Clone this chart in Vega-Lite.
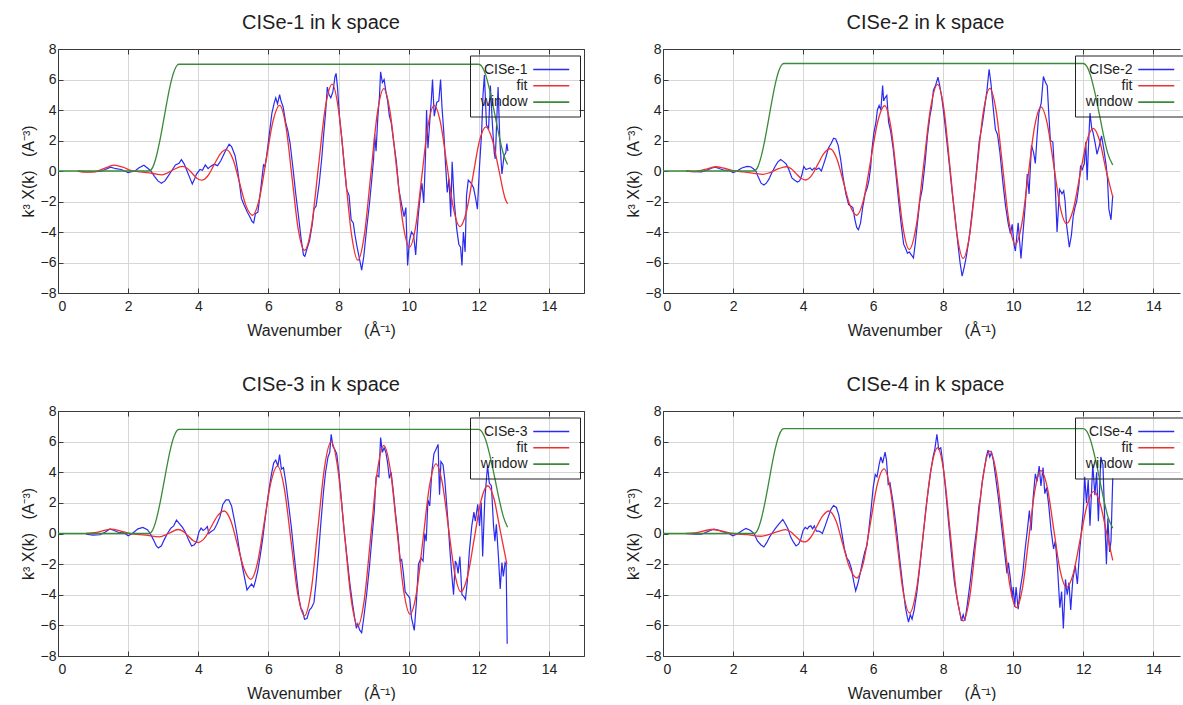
{
"$schema": "https://vega.github.io/schema/vega-lite/v6.json",
"background": "white",
"autosize": {"type": "pad"},
"padding": {"left": 20, "top": 13, "right": 0, "bottom": 0},
"config": {
  "view": {"stroke": null},
  "font": "Liberation Sans",
  "title": {"fontSize": 20, "fontWeight": "normal", "color": "#1e1e1e", "font": "Liberation Sans", "offset": 9},
  "axis": {"domainColor": "#3a3a3a", "tickColor": "#3a3a3a", "tickSize": -5, "gridColor": "#d6d6d6", "labelFont": "Liberation Sans", "labelFontSize": 14, "labelColor": "#222", "titleFont": "Liberation Sans", "titleFontSize": 16, "titleFontWeight": "normal", "titleColor": "#1e1e1e"},
  "axisBottom": {"labelPadding": 11, "titlePadding": 9},
  "axisLeft": {"labelPadding": 7, "titlePadding": 4},
  "legend": {"orient": "none", "legendX": 412, "legendY": 6.5, "title": null, "strokeColor": "#222", "padding": 7, "symbolType": "M-3.6,0H3.6", "symbolSize": 100, "symbolStrokeWidth": 1.6, "rowPadding": 2.3, "labelAlign": "right", "labelBaseline": "middle", "labelOffset": -30.75, "symbolOffset": 67.25, "labelFont": "Liberation Sans", "labelFontSize": 14, "labelColor": "#222", "labelLimit": 200}
},
"bounds": "flush",
"spacing": {"row": 118, "column": 79},
"columns": 2,
"resolve": {"scale": {"color": "independent", "x": "independent", "y": "independent"}},
"datasets": {
"p1": [
{"k":0.6,"d":0},{"k":0.8,"d":-0.05},{"k":1.0,"d":-0.05},{"k":1.2,"d":-0.03},{"k":1.35,"d":0.1},{"k":1.5,"d":0.25},{"k":1.65,"d":0.15},{"k":1.8,"d":0.1},{"k":1.9,"d":0},{"k":2.0,"d":-0.1},{"k":2.1,"d":-0.05},{"k":2.2,"d":0},{"k":2.3,"d":0.2},{"k":2.45,"d":0.38},{"k":2.55,"d":0.2},{"k":2.65,"d":0},{"k":2.75,"d":-0.35},{"k":2.85,"d":-0.65},{"k":2.95,"d":-0.8},{"k":3.05,"d":-0.65},{"k":3.15,"d":-0.3},{"k":3.25,"d":0.05},{"k":3.35,"d":0.4},{"k":3.45,"d":0.5},{"k":3.52,"d":0.75},{"k":3.6,"d":0.45},{"k":3.68,"d":0},{"k":3.75,"d":-0.4},{"k":3.83,"d":-0.85},{"k":3.9,"d":-0.5},{"k":3.95,"d":-0.2},{"k":4.05,"d":0.1},{"k":4.12,"d":0.05},{"k":4.2,"d":0.4},{"k":4.28,"d":0.15},{"k":4.35,"d":0.3},{"k":4.45,"d":0.45},{"k":4.55,"d":0.35},{"k":4.65,"d":0.7},{"k":4.75,"d":1.2},{"k":4.88,"d":1.75},{"k":4.95,"d":1.6},{"k":5.05,"d":1.0},{"k":5.12,"d":0.1},{"k":5.18,"d":-0.9},{"k":5.23,"d":-1.8},{"k":5.3,"d":-2.2},{"k":5.4,"d":-2.7},{"k":5.47,"d":-3.0},{"k":5.53,"d":-3.3},{"k":5.58,"d":-3.4},{"k":5.63,"d":-2.8},{"k":5.7,"d":-2.7},{"k":5.76,"d":-1.6},{"k":5.82,"d":-0.4},{"k":5.86,"d":0.4},{"k":5.9,"d":0.3},{"k":5.95,"d":1.0},{"k":6.02,"d":2.3},{"k":6.1,"d":3.8},{"k":6.17,"d":4.5},{"k":6.21,"d":4.8},{"k":6.26,"d":4.4},{"k":6.32,"d":5.0},{"k":6.36,"d":4.6},{"k":6.42,"d":4.2},{"k":6.5,"d":3.1},{"k":6.55,"d":2.7},{"k":6.62,"d":1.8},{"k":6.7,"d":0.2},{"k":6.78,"d":-1.5},{"k":6.86,"d":-3.0},{"k":6.93,"d":-4.4},{"k":7.0,"d":-5.5},{"k":7.04,"d":-5.6},{"k":7.1,"d":-5.1},{"k":7.17,"d":-4.6},{"k":7.25,"d":-3.5},{"k":7.3,"d":-2.5},{"k":7.36,"d":-2.3},{"k":7.45,"d":-0.8},{"k":7.52,"d":0.8},{"k":7.58,"d":2.5},{"k":7.63,"d":3.8},{"k":7.68,"d":5.5},{"k":7.73,"d":5.0},{"k":7.78,"d":4.8},{"k":7.84,"d":5.2},{"k":7.9,"d":6.2},{"k":7.93,"d":6.4},{"k":7.97,"d":5.5},{"k":8.03,"d":3.5},{"k":8.1,"d":2.0},{"k":8.17,"d":0.2},{"k":8.23,"d":-1.2},{"k":8.3,"d":-1.6},{"k":8.36,"d":-3.2},{"k":8.42,"d":-3.4},{"k":8.47,"d":-4.2},{"k":8.53,"d":-5.0},{"k":8.6,"d":-5.8},{"k":8.66,"d":-6.5},{"k":8.72,"d":-5.6},{"k":8.8,"d":-3.8},{"k":8.88,"d":-2.2},{"k":8.95,"d":-0.5},{"k":9.0,"d":0.8},{"k":9.03,"d":2.4},{"k":9.07,"d":1.3},{"k":9.12,"d":3.5},{"k":9.17,"d":5.0},{"k":9.2,"d":6.5},{"k":9.25,"d":5.8},{"k":9.3,"d":6.0},{"k":9.35,"d":5.2},{"k":9.4,"d":4.6},{"k":9.45,"d":3.6},{"k":9.5,"d":3.2},{"k":9.58,"d":1.8},{"k":9.65,"d":0.6},{"k":9.72,"d":-1.2},{"k":9.8,"d":-2.2},{"k":9.87,"d":-3.0},{"k":9.92,"d":-2.4},{"k":9.97,"d":-6.2},{"k":10.02,"d":-4.6},{"k":10.08,"d":-4.0},{"k":10.14,"d":-4.2},{"k":10.2,"d":-5.5},{"k":10.27,"d":-3.0},{"k":10.33,"d":-1.6},{"k":10.38,"d":-0.8},{"k":10.43,"d":-2.1},{"k":10.48,"d":1.0},{"k":10.51,"d":4.0},{"k":10.55,"d":1.5},{"k":10.6,"d":3.2},{"k":10.65,"d":4.8},{"k":10.68,"d":6.0},{"k":10.73,"d":3.6},{"k":10.8,"d":4.5},{"k":10.86,"d":4.6},{"k":10.91,"d":6.0},{"k":10.95,"d":4.2},{"k":11.0,"d":2.6},{"k":11.05,"d":0.5},{"k":11.1,"d":-1.4},{"k":11.15,"d":-0.5},{"k":11.2,"d":-3.0},{"k":11.24,"d":0.6},{"k":11.3,"d":-2.0},{"k":11.37,"d":-3.8},{"k":11.43,"d":-4.8},{"k":11.48,"d":-5.0},{"k":11.52,"d":-6.2},{"k":11.56,"d":-4.0},{"k":11.61,"d":-5.3},{"k":11.65,"d":-1.6},{"k":11.7,"d":-0.6},{"k":11.78,"d":-0.8},{"k":11.85,"d":-1.1},{"k":11.91,"d":-1.8},{"k":11.96,"d":-2.5},{"k":12.02,"d":0.3},{"k":12.08,"d":2.5},{"k":12.12,"d":5.0},{"k":12.16,"d":6.3},{"k":12.22,"d":3.0},{"k":12.28,"d":2.8},{"k":12.33,"d":5.6},{"k":12.39,"d":3.0},{"k":12.44,"d":1.2},{"k":12.47,"d":0.8},{"k":12.51,"d":3.2},{"k":12.55,"d":5.5},{"k":12.6,"d":2.0},{"k":12.66,"d":-0.2},{"k":12.72,"d":1.0},{"k":12.77,"d":1.2},{"k":12.8,"d":1.8},{"k":12.83,"d":1.3},
{"k":0.55,"f":0},{"k":0.8,"f":-0.08},{"k":1.05,"f":-0.05},{"k":1.3,"f":0.15},{"k":1.6,"f":0.38},{"k":1.85,"f":0.25},{"k":2.1,"f":0.02},{"k":2.35,"f":-0.06},{"k":2.6,"f":-0.12},{"k":2.8,"f":-0.2},{"k":2.95,"f":-0.25},{"k":3.1,"f":-0.15},{"k":3.3,"f":0.1},{"k":3.55,"f":0.3},{"k":3.69,"f":0.17},{"k":3.825,"f":-0.15},{"k":3.96,"f":-0.47},{"k":4.1,"f":-0.6},{"k":4.275,"f":-0.31},{"k":4.45,"f":0.4},{"k":4.625,"f":1.11},{"k":4.8,"f":1.4},{"k":4.99,"f":0.77},{"k":5.175,"f":-0.75},{"k":5.36,"f":-2.27},{"k":5.55,"f":-2.9},{"k":5.74,"f":-1.85},{"k":5.935,"f":0.7},{"k":6.13,"f":3.25},{"k":6.32,"f":4.3},{"k":6.5,"f":2.91},{"k":6.675,"f":-0.45},{"k":6.85,"f":-3.81},{"k":7.03,"f":-5.2},{"k":7.23,"f":-3.61},{"k":7.425,"f":0.25},{"k":7.62,"f":4.11},{"k":7.82,"f":5.7},{"k":8.0,"f":4.01},{"k":8.185,"f":-0.08},{"k":8.37,"f":-4.16},{"k":8.55,"f":-5.85},{"k":8.735,"f":-4.21},{"k":8.92,"f":-0.23},{"k":9.105,"f":3.76},{"k":9.29,"f":5.4},{"k":9.47,"f":3.88},{"k":9.655,"f":0.2},{"k":9.84,"f":-3.48},{"k":10.02,"f":-5.0},{"k":10.2,"f":-3.64},{"k":10.375,"f":-0.35},{"k":10.55,"f":2.94},{"k":10.73,"f":4.3},{"k":10.91,"f":3.14},{"k":11.095,"f":0.33},{"k":11.28,"f":-2.49},{"k":11.46,"f":-3.65},{"k":11.645,"f":-2.69},{"k":11.83,"f":-0.38},{"k":12.015,"f":1.94},{"k":12.2,"f":2.9},{"k":12.38,"f":2.1},{"k":12.565,"f":0.15},{"k":12.75,"f":-1.8},{"k":12.82,"f":-2.15},
{"k":0,"w":0},{"k":2.6,"w":0},{"k":2.7,"w":0.24},{"k":2.8,"w":0.92},{"k":2.9,"w":1.94},{"k":3.0,"w":3.17},{"k":3.1,"w":4.45},{"k":3.2,"w":5.61},{"k":3.3,"w":6.48},{"k":3.4,"w":6.94},{"k":3.45,"w":7.0},{"k":12.0,"w":7.0},{"k":12.1,"w":6.81},{"k":12.2,"w":6.27},{"k":12.3,"w":5.4},{"k":12.4,"w":4.36},{"k":12.5,"w":3.21},{"k":12.6,"w":2.09},{"k":12.7,"w":1.13},{"k":12.82,"w":0.42}
],
"p2": [
{"k":0.66,"d":0},{"k":0.9,"d":-0.05},{"k":1.1,"d":-0.06},{"k":1.25,"d":0.05},{"k":1.4,"d":0.2},{"k":1.5,"d":0.25},{"k":1.62,"d":0.15},{"k":1.75,"d":0.05},{"k":1.88,"d":0.05},{"k":2.0,"d":-0.1},{"k":2.1,"d":-0.02},{"k":2.25,"d":0.2},{"k":2.4,"d":0.3},{"k":2.5,"d":0.28},{"k":2.58,"d":0.15},{"k":2.65,"d":0},{"k":2.72,"d":-0.4},{"k":2.8,"d":-0.8},{"k":2.88,"d":-0.92},{"k":2.95,"d":-0.8},{"k":3.02,"d":-0.55},{"k":3.1,"d":-0.15},{"k":3.2,"d":0.3},{"k":3.28,"d":0.6},{"k":3.36,"d":0.75},{"k":3.45,"d":0.6},{"k":3.52,"d":0.45},{"k":3.6,"d":0.05},{"k":3.68,"d":-0.45},{"k":3.76,"d":-0.6},{"k":3.84,"d":-0.72},{"k":3.9,"d":-0.65},{"k":3.96,"d":-0.3},{"k":4.02,"d":0.3},{"k":4.08,"d":0.1},{"k":4.14,"d":0.15},{"k":4.2,"d":0.2},{"k":4.26,"d":0.05},{"k":4.32,"d":0.2},{"k":4.38,"d":0.1},{"k":4.45,"d":0.2},{"k":4.52,"d":0},{"k":4.58,"d":0.4},{"k":4.65,"d":0.9},{"k":4.72,"d":1.5},{"k":4.8,"d":1.8},{"k":4.87,"d":2.15},{"k":4.93,"d":2.1},{"k":5.0,"d":1.7},{"k":5.07,"d":0.8},{"k":5.14,"d":-0.4},{"k":5.22,"d":-1.5},{"k":5.3,"d":-2.2},{"k":5.36,"d":-2.3},{"k":5.42,"d":-2.4},{"k":5.48,"d":-3.2},{"k":5.53,"d":-3.7},{"k":5.58,"d":-3.85},{"k":5.64,"d":-3.4},{"k":5.7,"d":-2.4},{"k":5.77,"d":-1.5},{"k":5.83,"d":-1.1},{"k":5.88,"d":-0.6},{"k":5.93,"d":0.3},{"k":5.96,"d":1.3},{"k":6.02,"d":2.5},{"k":6.08,"d":3.2},{"k":6.12,"d":4.0},{"k":6.17,"d":4.3},{"k":6.22,"d":4.0},{"k":6.27,"d":5.6},{"k":6.3,"d":4.6},{"k":6.34,"d":4.8},{"k":6.39,"d":4.96},{"k":6.44,"d":3.2},{"k":6.5,"d":2.6},{"k":6.57,"d":1.5},{"k":6.64,"d":0},{"k":6.72,"d":-1.8},{"k":6.8,"d":-3.5},{"k":6.87,"d":-4.8},{"k":6.93,"d":-5.1},{"k":6.98,"d":-5.4},{"k":7.03,"d":-5.3},{"k":7.09,"d":-5.5},{"k":7.15,"d":-5.7},{"k":7.2,"d":-4.8},{"k":7.26,"d":-3.5},{"k":7.33,"d":-2.0},{"k":7.4,"d":-1.2},{"k":7.48,"d":0.5},{"k":7.55,"d":2.3},{"k":7.62,"d":3.6},{"k":7.67,"d":4.2},{"k":7.72,"d":5.3},{"k":7.78,"d":5.6},{"k":7.85,"d":6.15},{"k":7.9,"d":5.6},{"k":7.96,"d":4.8},{"k":8.03,"d":3.5},{"k":8.1,"d":2.0},{"k":8.18,"d":0.3},{"k":8.26,"d":-1.5},{"k":8.34,"d":-3.0},{"k":8.42,"d":-4.8},{"k":8.48,"d":-6.0},{"k":8.54,"d":-6.9},{"k":8.6,"d":-6.3},{"k":8.66,"d":-5.6},{"k":8.74,"d":-4.4},{"k":8.82,"d":-2.8},{"k":8.9,"d":-1.2},{"k":8.97,"d":0.5},{"k":9.03,"d":2.0},{"k":9.08,"d":2.6},{"k":9.13,"d":3.3},{"k":9.19,"d":4.3},{"k":9.25,"d":5.3},{"k":9.31,"d":6.67},{"k":9.36,"d":5.8},{"k":9.42,"d":4.3},{"k":9.49,"d":2.73},{"k":9.55,"d":2.4},{"k":9.62,"d":1.2},{"k":9.7,"d":-0.7},{"k":9.78,"d":-2.3},{"k":9.86,"d":-3.5},{"k":9.92,"d":-4.1},{"k":9.97,"d":-3.5},{"k":10.02,"d":-4.8},{"k":10.06,"d":-5.25},{"k":10.14,"d":-3.4},{"k":10.22,"d":-5.73},{"k":10.28,"d":-4.0},{"k":10.34,"d":-2.3},{"k":10.4,"d":-0.2},{"k":10.45,"d":-1.5},{"k":10.52,"d":1.7},{"k":10.58,"d":1.2},{"k":10.63,"d":0.5},{"k":10.68,"d":2.3},{"k":10.73,"d":3.8},{"k":10.8,"d":4.5},{"k":10.86,"d":6.2},{"k":10.92,"d":5.8},{"k":10.97,"d":5.6},{"k":11.02,"d":3.5},{"k":11.06,"d":2.0},{"k":11.13,"d":1.9},{"k":11.19,"d":-0.5},{"k":11.25,"d":-4.0},{"k":11.32,"d":-1.2},{"k":11.39,"d":-1.5},{"k":11.44,"d":-1.3},{"k":11.48,"d":-2.0},{"k":11.52,"d":-3.5},{"k":11.6,"d":-5.0},{"k":11.66,"d":-4.2},{"k":11.71,"d":-3.0},{"k":11.76,"d":-2.4},{"k":11.81,"d":-2.0},{"k":11.87,"d":-1.0},{"k":11.92,"d":0.3},{"k":11.97,"d":0.1},{"k":12.03,"d":0.5},{"k":12.07,"d":1.9},{"k":12.11,"d":-0.6},{"k":12.15,"d":1.8},{"k":12.19,"d":3.8},{"k":12.24,"d":2.8},{"k":12.28,"d":2.5},{"k":12.34,"d":1.8},{"k":12.39,"d":1.1},{"k":12.45,"d":1.6},{"k":12.52,"d":2.3},{"k":12.58,"d":1.5},{"k":12.65,"d":0.4},{"k":12.69,"d":-0.5},{"k":12.73,"d":-2.5},{"k":12.79,"d":-3.2},{"k":12.84,"d":-1.6},
{"k":0.66,"f":0},{"k":0.9,"f":-0.04},{"k":1.2,"f":0.1},{"k":1.5,"f":0.28},{"k":1.75,"f":0.18},{"k":2.0,"f":0.02},{"k":2.3,"f":-0.06},{"k":2.6,"f":-0.15},{"k":2.85,"f":-0.22},{"k":3.05,"f":-0.1},{"k":3.3,"f":0.15},{"k":3.52,"f":0.28},{"k":3.66,"f":0.15},{"k":3.795,"f":-0.155},{"k":3.93,"f":-0.46},{"k":4.07,"f":-0.59},{"k":4.245,"f":-0.29},{"k":4.42,"f":0.435},{"k":4.595,"f":1.16},{"k":4.77,"f":1.46},{"k":4.96,"f":0.82},{"k":5.15,"f":-0.72},{"k":5.34,"f":-2.26},{"k":5.53,"f":-2.9},{"k":5.73,"f":-1.85},{"k":5.93,"f":0.69},{"k":6.13,"f":3.23},{"k":6.33,"f":4.28},{"k":6.505,"f":2.9},{"k":6.68,"f":-0.43},{"k":6.855,"f":-3.76},{"k":7.03,"f":-5.14},{"k":7.2325,"f":-3.56},{"k":7.435,"f":0.27},{"k":7.6375,"f":4.1},{"k":7.84,"f":5.68},{"k":8.0225,"f":4.01},{"k":8.205,"f":-0.03},{"k":8.3875,"f":-4.06},{"k":8.57,"f":-5.73},{"k":8.76,"f":-4.1},{"k":8.95,"f":-0.16},{"k":9.14,"f":3.79},{"k":9.33,"f":5.42},{"k":9.5125,"f":3.93},{"k":9.695,"f":0.31},{"k":9.8775,"f":-3.32},{"k":10.06,"f":-4.81},{"k":10.2425,"f":-3.49},{"k":10.425,"f":-0.3},{"k":10.6075,"f":2.89},{"k":10.79,"f":4.2},{"k":10.9725,"f":3.08},{"k":11.155,"f":0.38},{"k":11.3375,"f":-2.33},{"k":11.52,"f":-3.45},{"k":11.71,"f":-2.54},{"k":11.9,"f":-0.33},{"k":12.09,"f":1.89},{"k":12.28,"f":2.8},{"k":12.46,"f":2.03},{"k":12.64,"f":0.15},{"k":12.84,"f":-1.7},
{"k":0,"w":0},{"k":2.6,"w":0},{"k":2.7,"w":0.24},{"k":2.8,"w":0.93},{"k":2.9,"w":1.95},{"k":3.0,"w":3.19},{"k":3.1,"w":4.48},{"k":3.2,"w":5.65},{"k":3.3,"w":6.52},{"k":3.4,"w":6.99},{"k":3.45,"w":7.05},{"k":12.0,"w":7.05},{"k":12.1,"w":6.86},{"k":12.2,"w":6.31},{"k":12.3,"w":5.44},{"k":12.4,"w":4.39},{"k":12.5,"w":3.23},{"k":12.6,"w":2.1},{"k":12.7,"w":1.14},{"k":12.84,"w":0.4}
],
"p3": [
{"k":0.8,"d":-0.05},{"k":1.0,"d":-0.1},{"k":1.2,"d":-0.08},{"k":1.35,"d":0.1},{"k":1.48,"d":0.3},{"k":1.6,"d":0.2},{"k":1.75,"d":0.05},{"k":1.85,"d":0.1},{"k":2.0,"d":-0.15},{"k":2.12,"d":0},{"k":2.28,"d":0.3},{"k":2.42,"d":0.4},{"k":2.55,"d":0.25},{"k":2.63,"d":0},{"k":2.72,"d":-0.4},{"k":2.8,"d":-0.8},{"k":2.86,"d":-0.95},{"k":2.95,"d":-0.8},{"k":3.03,"d":-0.4},{"k":3.12,"d":0},{"k":3.22,"d":0.35},{"k":3.3,"d":0.5},{"k":3.38,"d":0.88},{"k":3.46,"d":0.65},{"k":3.55,"d":0.4},{"k":3.63,"d":0.1},{"k":3.72,"d":-0.4},{"k":3.81,"d":-0.81},{"k":3.88,"d":-0.75},{"k":3.95,"d":-0.55},{"k":4.02,"d":0.1},{"k":4.08,"d":0.35},{"k":4.14,"d":0.2},{"k":4.2,"d":0.3},{"k":4.26,"d":0.45},{"k":4.3,"d":0},{"k":4.38,"d":0.15},{"k":4.45,"d":0.25},{"k":4.53,"d":0.6},{"k":4.62,"d":1.1},{"k":4.7,"d":1.9},{"k":4.79,"d":2.2},{"k":4.87,"d":2.2},{"k":4.95,"d":1.8},{"k":5.02,"d":1.0},{"k":5.1,"d":0},{"k":5.18,"d":-1.2},{"k":5.26,"d":-2.2},{"k":5.33,"d":-3.0},{"k":5.39,"d":-3.69},{"k":5.45,"d":-3.5},{"k":5.52,"d":-3.3},{"k":5.58,"d":-3.5},{"k":5.63,"d":-3.1},{"k":5.7,"d":-2.4},{"k":5.77,"d":-1.4},{"k":5.84,"d":-0.3},{"k":5.92,"d":1.2},{"k":6.0,"d":2.6},{"k":6.08,"d":3.8},{"k":6.15,"d":4.6},{"k":6.21,"d":4.8},{"k":6.27,"d":4.4},{"k":6.32,"d":5.16},{"k":6.37,"d":4.2},{"k":6.43,"d":4.3},{"k":6.5,"d":3.3},{"k":6.57,"d":2.0},{"k":6.65,"d":0.5},{"k":6.73,"d":-1.3},{"k":6.8,"d":-2.8},{"k":6.87,"d":-4.2},{"k":6.93,"d":-4.9},{"k":6.98,"d":-5.1},{"k":7.03,"d":-5.6},{"k":7.1,"d":-5.55},{"k":7.17,"d":-5.0},{"k":7.23,"d":-4.85},{"k":7.3,"d":-4.5},{"k":7.36,"d":-3.2},{"k":7.43,"d":-1.3},{"k":7.5,"d":0.8},{"k":7.57,"d":2.7},{"k":7.63,"d":4.0},{"k":7.7,"d":5.0},{"k":7.75,"d":5.3},{"k":7.79,"d":6.48},{"k":7.84,"d":5.7},{"k":7.89,"d":5.5},{"k":7.95,"d":5.2},{"k":8.02,"d":3.8},{"k":8.09,"d":2.0},{"k":8.16,"d":0.2},{"k":8.24,"d":-1.5},{"k":8.32,"d":-3.2},{"k":8.4,"d":-4.6},{"k":8.46,"d":-5.5},{"k":8.51,"d":-6.2},{"k":8.55,"d":-5.9},{"k":8.6,"d":-6.3},{"k":8.66,"d":-6.48},{"k":8.72,"d":-5.5},{"k":8.8,"d":-4.0},{"k":8.88,"d":-2.2},{"k":8.96,"d":-0.1},{"k":9.02,"d":1.5},{"k":9.07,"d":3.7},{"k":9.1,"d":3.8},{"k":9.15,"d":3.7},{"k":9.2,"d":6.26},{"k":9.25,"d":5.3},{"k":9.3,"d":5.6},{"k":9.35,"d":5.3},{"k":9.4,"d":4.6},{"k":9.45,"d":3.6},{"k":9.5,"d":4.0},{"k":9.56,"d":2.8},{"k":9.62,"d":1.4},{"k":9.7,"d":-0.2},{"k":9.76,"d":-1.8},{"k":9.8,"d":-1.7},{"k":9.85,"d":-2.6},{"k":9.9,"d":-3.8},{"k":9.96,"d":-4.0},{"k":10.03,"d":-4.2},{"k":10.08,"d":-5.5},{"k":10.16,"d":-6.33},{"k":10.22,"d":-4.5},{"k":10.28,"d":-2.0},{"k":10.35,"d":-1.6},{"k":10.41,"d":-1.8},{"k":10.46,"d":0},{"k":10.5,"d":-0.5},{"k":10.55,"d":2.2},{"k":10.6,"d":1.8},{"k":10.66,"d":4.0},{"k":10.72,"d":5.2},{"k":10.78,"d":5.5},{"k":10.84,"d":5.82},{"k":10.88,"d":2.53},{"k":10.92,"d":4.7},{"k":10.98,"d":4.5},{"k":11.03,"d":3.5},{"k":11.08,"d":2.0},{"k":11.13,"d":0.5},{"k":11.18,"d":-1.2},{"k":11.23,"d":-2.7},{"k":11.28,"d":-4.0},{"k":11.33,"d":-1.8},{"k":11.37,"d":-2.0},{"k":11.41,"d":-2.6},{"k":11.46,"d":-1.5},{"k":11.52,"d":-4.0},{"k":11.57,"d":-4.1},{"k":11.62,"d":-4.3},{"k":11.67,"d":-3.2},{"k":11.73,"d":-1.2},{"k":11.8,"d":0.5},{"k":11.86,"d":1.4},{"k":11.9,"d":0.8},{"k":11.97,"d":1.9},{"k":12.02,"d":0.5},{"k":12.07,"d":2.0},{"k":12.11,"d":-1.5},{"k":12.17,"d":2.2},{"k":12.25,"d":4.44},{"k":12.3,"d":3.3},{"k":12.36,"d":3.1},{"k":12.42,"d":0.5},{"k":12.46,"d":-0.5},{"k":12.5,"d":0.6},{"k":12.56,"d":-1.5},{"k":12.61,"d":-3.63},{"k":12.66,"d":-1.9},{"k":12.7,"d":-2.8},{"k":12.75,"d":-1.9},{"k":12.78,"d":-2.0},{"k":12.81,"d":-7.2},
{"k":0.8,"f":0},{"k":1.1,"f":0.08},{"k":1.52,"f":0.29},{"k":1.8,"f":0.15},{"k":2.05,"f":0},{"k":2.5,"f":-0.1},{"k":2.89,"f":-0.22},{"k":3.15,"f":0},{"k":3.43,"f":0.26},{"k":3.57,"f":0.14},{"k":3.715,"f":-0.165},{"k":3.86,"f":-0.47},{"k":4.0,"f":-0.59},{"k":4.185,"f":-0.29},{"k":4.37,"f":0.44},{"k":4.555,"f":1.17},{"k":4.74,"f":1.47},{"k":4.93,"f":0.82},{"k":5.12,"f":-0.76},{"k":5.31,"f":-2.34},{"k":5.5,"f":-2.99},{"k":5.69,"f":-1.91},{"k":5.88,"f":0.71},{"k":6.07,"f":3.32},{"k":6.26,"f":4.4},{"k":6.4525,"f":2.97},{"k":6.645,"f":-0.49},{"k":6.8375,"f":-3.95},{"k":7.03,"f":-5.38},{"k":7.22,"f":-3.72},{"k":7.41,"f":0.3},{"k":7.6,"f":4.32},{"k":7.79,"f":5.98},{"k":7.98,"f":4.23},{"k":8.17,"f":-0.03},{"k":8.36,"f":-4.29},{"k":8.55,"f":-6.04},{"k":8.735,"f":-4.32},{"k":8.92,"f":-0.14},{"k":9.105,"f":4.04},{"k":9.29,"f":5.76},{"k":9.4775,"f":4.15},{"k":9.665,"f":0.25},{"k":9.8525,"f":-3.66},{"k":10.04,"f":-5.27},{"k":10.225,"f":-3.84},{"k":10.41,"f":-0.36},{"k":10.595,"f":3.12},{"k":10.78,"f":4.55},{"k":10.9575,"f":3.33},{"k":11.135,"f":0.38},{"k":11.3125,"f":-2.58},{"k":11.49,"f":-3.8},{"k":11.68,"f":-2.79},{"k":11.87,"f":-0.34},{"k":12.06,"f":2.11},{"k":12.25,"f":3.12},{"k":12.43,"f":2.3},{"k":12.61,"f":0.2},{"k":12.8,"f":-1.98},
{"k":0,"w":0},{"k":2.6,"w":0},{"k":2.7,"w":0.23},{"k":2.8,"w":0.89},{"k":2.9,"w":1.88},{"k":3.0,"w":3.08},{"k":3.1,"w":4.32},{"k":3.2,"w":5.45},{"k":3.3,"w":6.29},{"k":3.4,"w":6.74},{"k":3.45,"w":6.8},{"k":12.0,"w":6.8},{"k":12.1,"w":6.61},{"k":12.2,"w":6.09},{"k":12.3,"w":5.25},{"k":12.4,"w":4.24},{"k":12.5,"w":3.12},{"k":12.6,"w":2.03},{"k":12.7,"w":1.1},{"k":12.82,"w":0.41}
],
"p4": [
{"k":0.66,"d":0},{"k":0.9,"d":-0.05},{"k":1.1,"d":-0.05},{"k":1.25,"d":0.1},{"k":1.45,"d":0.29},{"k":1.6,"d":0.2},{"k":1.72,"d":0.1},{"k":1.85,"d":0.05},{"k":1.99,"d":-0.15},{"k":2.1,"d":-0.05},{"k":2.2,"d":0.1},{"k":2.3,"d":0.25},{"k":2.37,"d":0.33},{"k":2.5,"d":0.2},{"k":2.6,"d":0},{"k":2.7,"d":-0.5},{"k":2.8,"d":-0.75},{"k":2.88,"d":-0.88},{"k":2.96,"d":-0.6},{"k":3.05,"d":-0.2},{"k":3.12,"d":0.05},{"k":3.2,"d":0.3},{"k":3.3,"d":0.6},{"k":3.42,"d":0.92},{"k":3.5,"d":0.6},{"k":3.57,"d":0.3},{"k":3.64,"d":-0.2},{"k":3.72,"d":-0.55},{"k":3.8,"d":-0.81},{"k":3.87,"d":-0.7},{"k":3.93,"d":-0.4},{"k":4.0,"d":0.2},{"k":4.06,"d":0.4},{"k":4.12,"d":0.3},{"k":4.17,"d":0.45},{"k":4.22,"d":0.5},{"k":4.27,"d":0.3},{"k":4.32,"d":0.5},{"k":4.38,"d":0.15},{"k":4.45,"d":0.15},{"k":4.5,"d":0.1},{"k":4.55,"d":0},{"k":4.63,"d":0.5},{"k":4.72,"d":1.1},{"k":4.8,"d":1.6},{"k":4.87,"d":1.82},{"k":4.95,"d":1.7},{"k":5.02,"d":1.2},{"k":5.1,"d":0.1},{"k":5.18,"d":-1.0},{"k":5.25,"d":-1.6},{"k":5.31,"d":-1.8},{"k":5.38,"d":-2.3},{"k":5.45,"d":-3.2},{"k":5.5,"d":-3.74},{"k":5.56,"d":-3.3},{"k":5.62,"d":-2.7},{"k":5.7,"d":-1.8},{"k":5.76,"d":-1.2},{"k":5.82,"d":-0.8},{"k":5.88,"d":0.3},{"k":5.95,"d":1.8},{"k":6.0,"d":3.0},{"k":6.06,"d":3.85},{"k":6.11,"d":3.7},{"k":6.17,"d":4.5},{"k":6.22,"d":5.0},{"k":6.27,"d":4.6},{"k":6.34,"d":5.32},{"k":6.38,"d":4.8},{"k":6.43,"d":3.2},{"k":6.48,"d":3.3},{"k":6.57,"d":2.0},{"k":6.66,"d":0.4},{"k":6.75,"d":-1.5},{"k":6.84,"d":-3.3},{"k":6.92,"d":-4.8},{"k":6.97,"d":-5.4},{"k":7.01,"d":-5.78},{"k":7.06,"d":-5.3},{"k":7.11,"d":-5.6},{"k":7.17,"d":-5.0},{"k":7.25,"d":-3.8},{"k":7.33,"d":-2.2},{"k":7.42,"d":-0.3},{"k":7.5,"d":1.5},{"k":7.57,"d":2.8},{"k":7.64,"d":4.0},{"k":7.71,"d":5.0},{"k":7.76,"d":5.5},{"k":7.82,"d":6.48},{"k":7.87,"d":5.5},{"k":7.93,"d":5.6},{"k":7.99,"d":4.6},{"k":8.07,"d":2.8},{"k":8.15,"d":0.8},{"k":8.23,"d":-1.2},{"k":8.32,"d":-3.2},{"k":8.4,"d":-4.3},{"k":8.46,"d":-5.0},{"k":8.52,"d":-5.71},{"k":8.57,"d":-5.3},{"k":8.62,"d":-5.7},{"k":8.69,"d":-4.6},{"k":8.78,"d":-3.0},{"k":8.87,"d":-1.2},{"k":8.95,"d":0.2},{"k":9.02,"d":1.8},{"k":9.06,"d":2.3},{"k":9.11,"d":3.3},{"k":9.18,"d":4.3},{"k":9.23,"d":5.0},{"k":9.28,"d":5.45},{"k":9.33,"d":5.0},{"k":9.38,"d":5.3},{"k":9.43,"d":4.8},{"k":9.49,"d":3.8},{"k":9.57,"d":2.4},{"k":9.66,"d":0.6},{"k":9.75,"d":-1.2},{"k":9.82,"d":-2.6},{"k":9.86,"d":-1.9},{"k":9.92,"d":-3.0},{"k":9.97,"d":-4.2},{"k":10.0,"d":-3.5},{"k":10.04,"d":-4.8},{"k":10.08,"d":-3.5},{"k":10.14,"d":-4.95},{"k":10.2,"d":-3.6},{"k":10.27,"d":-2.6},{"k":10.34,"d":-1.0},{"k":10.41,"d":0.4},{"k":10.46,"d":1.5},{"k":10.51,"d":0.2},{"k":10.57,"d":2.4},{"k":10.63,"d":3.9},{"k":10.68,"d":3.4},{"k":10.74,"d":4.4},{"k":10.79,"d":3.1},{"k":10.85,"d":4.3},{"k":10.9,"d":2.6},{"k":10.95,"d":3.0},{"k":11.01,"d":1.9},{"k":11.08,"d":0.2},{"k":11.15,"d":-1.0},{"k":11.2,"d":-0.5},{"k":11.26,"d":-2.1},{"k":11.33,"d":-4.84},{"k":11.38,"d":-3.8},{"k":11.43,"d":-6.2},{"k":11.49,"d":-3.0},{"k":11.54,"d":-4.0},{"k":11.59,"d":-3.2},{"k":11.64,"d":-5.0},{"k":11.7,"d":-3.0},{"k":11.77,"d":-2.1},{"k":11.83,"d":-3.3},{"k":11.9,"d":-1.0},{"k":11.96,"d":0.5},{"k":12.0,"d":1.5},{"k":12.04,"d":3.7},{"k":12.09,"d":2.0},{"k":12.14,"d":3.5},{"k":12.19,"d":0.5},{"k":12.27,"d":4.5},{"k":12.33,"d":2.5},{"k":12.38,"d":4.0},{"k":12.43,"d":0.8},{"k":12.5,"d":5.0},{"k":12.56,"d":4.5},{"k":12.61,"d":1.0},{"k":12.66,"d":-2.0},{"k":12.7,"d":1.0},{"k":12.75,"d":-1.2},{"k":12.79,"d":-0.5},{"k":12.84,"d":3.6},
{"k":0.66,"f":0},{"k":0.95,"f":0.05},{"k":1.39,"f":0.26},{"k":1.7,"f":0.15},{"k":2.0,"f":0},{"k":2.4,"f":-0.08},{"k":2.8,"f":-0.18},{"k":3.15,"f":0.03},{"k":3.5,"f":0.25},{"k":3.635,"f":0.13},{"k":3.77,"f":-0.15},{"k":3.905,"f":-0.43},{"k":4.04,"f":-0.55},{"k":4.215,"f":-0.26},{"k":4.39,"f":0.46},{"k":4.565,"f":1.17},{"k":4.74,"f":1.47},{"k":4.9375,"f":0.83},{"k":5.135,"f":-0.72},{"k":5.3325,"f":-2.26},{"k":5.53,"f":-2.9},{"k":5.725,"f":-1.86},{"k":5.92,"f":0.66},{"k":6.115,"f":3.18},{"k":6.31,"f":4.22},{"k":6.4925,"f":2.85},{"k":6.675,"f":-0.49},{"k":6.8575,"f":-3.82},{"k":7.04,"f":-5.19},{"k":7.24,"f":-3.61},{"k":7.44,"f":0.2},{"k":7.64,"f":4.02},{"k":7.84,"f":5.6},{"k":8.0225,"f":3.95},{"k":8.205,"f":-0.06},{"k":8.3875,"f":-4.06},{"k":8.57,"f":-5.71},{"k":8.76,"f":-4.09},{"k":8.95,"f":-0.17},{"k":9.14,"f":3.76},{"k":9.33,"f":5.38},{"k":9.52,"f":3.89},{"k":9.71,"f":0.27},{"k":9.9,"f":-3.35},{"k":10.09,"f":-4.84},{"k":10.265,"f":-3.53},{"k":10.44,"f":-0.37},{"k":10.615,"f":2.79},{"k":10.79,"f":4.1},{"k":10.9725,"f":2.99},{"k":11.155,"f":0.29},{"k":11.3375,"f":-2.41},{"k":11.52,"f":-3.52},{"k":11.715,"f":-2.6},{"k":11.91,"f":-0.39},{"k":12.105,"f":1.83},{"k":12.3,"f":2.75},{"k":12.48,"f":1.95},{"k":12.66,"f":0.1},{"k":12.84,"f":-1.76},
{"k":0,"w":0},{"k":2.6,"w":0},{"k":2.7,"w":0.23},{"k":2.8,"w":0.9},{"k":2.9,"w":1.9},{"k":3.0,"w":3.1},{"k":3.1,"w":4.36},{"k":3.2,"w":5.49},{"k":3.3,"w":6.34},{"k":3.4,"w":6.79},{"k":3.45,"w":6.85},{"k":12.0,"w":6.85},{"k":12.1,"w":6.67},{"k":12.2,"w":6.14},{"k":12.3,"w":5.29},{"k":12.4,"w":4.27},{"k":12.5,"w":3.14},{"k":12.6,"w":2.05},{"k":12.7,"w":1.11},{"k":12.84,"w":0.35}
]
},
"concat": [
{
 "width": 526, "height": 244,
 "title": {"text": "CISe-1 in k space"},
 "data": {"name": "p1"},
 "layer": [
  {"transform": [{"filter": "isValid(datum.d)"}], "mark": {"type": "line", "strokeWidth": 1.2},
   "encoding": {
    "x": {"field": "k", "type": "quantitative", "scale": {"domain": [0, 15], "nice": false, "zero": false}, "axis": {"orient": "bottom", "values": [0,2,4,6,8,10,12,14], "grid": true, "title": "Wavenumber\u00a0\u00a0\u00a0\u00a0\u00a0(Å⁻¹)"}},
    "y": {"field": "d", "type": "quantitative", "scale": {"domain": [-8, 8], "nice": false}, "axis": {"orient": "left", "values": [-8,-6,-4,-2,0,2,4,6,8], "grid": true, "title": "k³ X(k)\u00a0\u00a0\u00a0(A⁻³)"}},
    "color": {"datum": "CISe-1", "type": "nominal", "scale": {"domain": ["CISe-1", "fit", "window"], "range": ["#2a2af0", "#f03030", "#3a8a3a"]}}}},
  {"transform": [{"filter": "isValid(datum.f)"}], "mark": {"type": "line", "strokeWidth": 1.3, "interpolate": "monotone"},
   "encoding": {
    "x": {"field": "k", "type": "quantitative", "axis": {"orient": "top", "values": [0,2,4,6,8,10,12,14], "labels": false, "grid": false, "title": null}},
    "y": {"field": "f", "type": "quantitative", "axis": {"orient": "right", "values": [-8,-6,-4,-2,0,2,4,6,8], "labels": false, "grid": false, "title": null}},
    "color": {"datum": "fit", "type": "nominal"}}},
  {"transform": [{"filter": "isValid(datum.w)"}], "mark": {"type": "line", "strokeWidth": 1.3, "interpolate": "monotone"},
   "encoding": {
    "x": {"field": "k", "type": "quantitative", "axis": null},
    "y": {"field": "w", "type": "quantitative", "axis": null},
    "color": {"datum": "window", "type": "nominal"}}}
 ],
 "resolve": {"axis": {"x": "independent", "y": "independent"}}
},
{
 "width": 517, "height": 244,
 "title": {"text": "CISe-2 in k space", "dx": 4},
 "data": {"name": "p2"},
 "layer": [
  {"transform": [{"filter": "isValid(datum.d)"}], "mark": {"type": "line", "strokeWidth": 1.2},
   "encoding": {
    "x": {"field": "k", "type": "quantitative", "scale": {"domain": [0, 14.76], "nice": false, "zero": false}, "axis": {"orient": "bottom", "values": [0,2,4,6,8,10,12,14], "grid": true, "title": "Wavenumber\u00a0\u00a0\u00a0\u00a0\u00a0(Å⁻¹)"}},
    "y": {"field": "d", "type": "quantitative", "scale": {"domain": [-8, 8], "nice": false}, "axis": {"orient": "left", "values": [-8,-6,-4,-2,0,2,4,6,8], "grid": true, "title": "k³ X(k)\u00a0\u00a0\u00a0(A⁻³)"}},
    "color": {"datum": "CISe-2", "type": "nominal", "scale": {"domain": ["CISe-2", "fit", "window"], "range": ["#2a2af0", "#f03030", "#3a8a3a"]}}}},
  {"transform": [{"filter": "isValid(datum.f)"}], "mark": {"type": "line", "strokeWidth": 1.3, "interpolate": "monotone"},
   "encoding": {
    "x": {"field": "k", "type": "quantitative", "axis": {"orient": "top", "values": [0,2,4,6,8,10,12,14], "labels": false, "grid": false, "title": null}},
    "y": {"field": "f", "type": "quantitative", "axis": null},
    "color": {"datum": "fit", "type": "nominal"}}},
  {"transform": [{"filter": "isValid(datum.w)"}], "mark": {"type": "line", "strokeWidth": 1.3, "interpolate": "monotone"},
   "encoding": {
    "x": {"field": "k", "type": "quantitative", "axis": null},
    "y": {"field": "w", "type": "quantitative", "axis": null},
    "color": {"datum": "window", "type": "nominal"}}}
 ],
 "resolve": {"axis": {"x": "independent", "y": "independent"}}
},
{
 "width": 526, "height": 245,
 "title": {"text": "CISe-3 in k space"},
 "data": {"name": "p3"},
 "layer": [
  {"transform": [{"filter": "isValid(datum.d)"}], "mark": {"type": "line", "strokeWidth": 1.2},
   "encoding": {
    "x": {"field": "k", "type": "quantitative", "scale": {"domain": [0, 15], "nice": false, "zero": false}, "axis": {"orient": "bottom", "values": [0,2,4,6,8,10,12,14], "grid": true, "title": "Wavenumber\u00a0\u00a0\u00a0\u00a0\u00a0(Å⁻¹)"}},
    "y": {"field": "d", "type": "quantitative", "scale": {"domain": [-8, 8], "nice": false}, "axis": {"orient": "left", "values": [-8,-6,-4,-2,0,2,4,6,8], "grid": true, "title": "k³ X(k)\u00a0\u00a0\u00a0(A⁻³)"}},
    "color": {"datum": "CISe-3", "type": "nominal", "scale": {"domain": ["CISe-3", "fit", "window"], "range": ["#2a2af0", "#f03030", "#3a8a3a"]}}}},
  {"transform": [{"filter": "isValid(datum.f)"}], "mark": {"type": "line", "strokeWidth": 1.3, "interpolate": "monotone"},
   "encoding": {
    "x": {"field": "k", "type": "quantitative", "axis": {"orient": "top", "values": [0,2,4,6,8,10,12,14], "labels": false, "grid": false, "title": null}},
    "y": {"field": "f", "type": "quantitative", "axis": {"orient": "right", "values": [-8,-6,-4,-2,0,2,4,6,8], "labels": false, "grid": false, "title": null}},
    "color": {"datum": "fit", "type": "nominal"}}},
  {"transform": [{"filter": "isValid(datum.w)"}], "mark": {"type": "line", "strokeWidth": 1.3, "interpolate": "monotone"},
   "encoding": {
    "x": {"field": "k", "type": "quantitative", "axis": null},
    "y": {"field": "w", "type": "quantitative", "axis": null},
    "color": {"datum": "window", "type": "nominal"}}}
 ],
 "resolve": {"axis": {"x": "independent", "y": "independent"}}
},
{
 "width": 517, "height": 245,
 "title": {"text": "CISe-4 in k space", "dx": 4},
 "data": {"name": "p4"},
 "layer": [
  {"transform": [{"filter": "isValid(datum.d)"}], "mark": {"type": "line", "strokeWidth": 1.2},
   "encoding": {
    "x": {"field": "k", "type": "quantitative", "scale": {"domain": [0, 14.76], "nice": false, "zero": false}, "axis": {"orient": "bottom", "values": [0,2,4,6,8,10,12,14], "grid": true, "title": "Wavenumber\u00a0\u00a0\u00a0\u00a0\u00a0(Å⁻¹)"}},
    "y": {"field": "d", "type": "quantitative", "scale": {"domain": [-8, 8], "nice": false}, "axis": {"orient": "left", "values": [-8,-6,-4,-2,0,2,4,6,8], "grid": true, "title": "k³ X(k)\u00a0\u00a0\u00a0(A⁻³)"}},
    "color": {"datum": "CISe-4", "type": "nominal", "scale": {"domain": ["CISe-4", "fit", "window"], "range": ["#2a2af0", "#f03030", "#3a8a3a"]}}}},
  {"transform": [{"filter": "isValid(datum.f)"}], "mark": {"type": "line", "strokeWidth": 1.3, "interpolate": "monotone"},
   "encoding": {
    "x": {"field": "k", "type": "quantitative", "axis": {"orient": "top", "values": [0,2,4,6,8,10,12,14], "labels": false, "grid": false, "title": null}},
    "y": {"field": "f", "type": "quantitative", "axis": null},
    "color": {"datum": "fit", "type": "nominal"}}},
  {"transform": [{"filter": "isValid(datum.w)"}], "mark": {"type": "line", "strokeWidth": 1.3, "interpolate": "monotone"},
   "encoding": {
    "x": {"field": "k", "type": "quantitative", "axis": null},
    "y": {"field": "w", "type": "quantitative", "axis": null},
    "color": {"datum": "window", "type": "nominal"}}}
 ],
 "resolve": {"axis": {"x": "independent", "y": "independent"}}
}
]
}
